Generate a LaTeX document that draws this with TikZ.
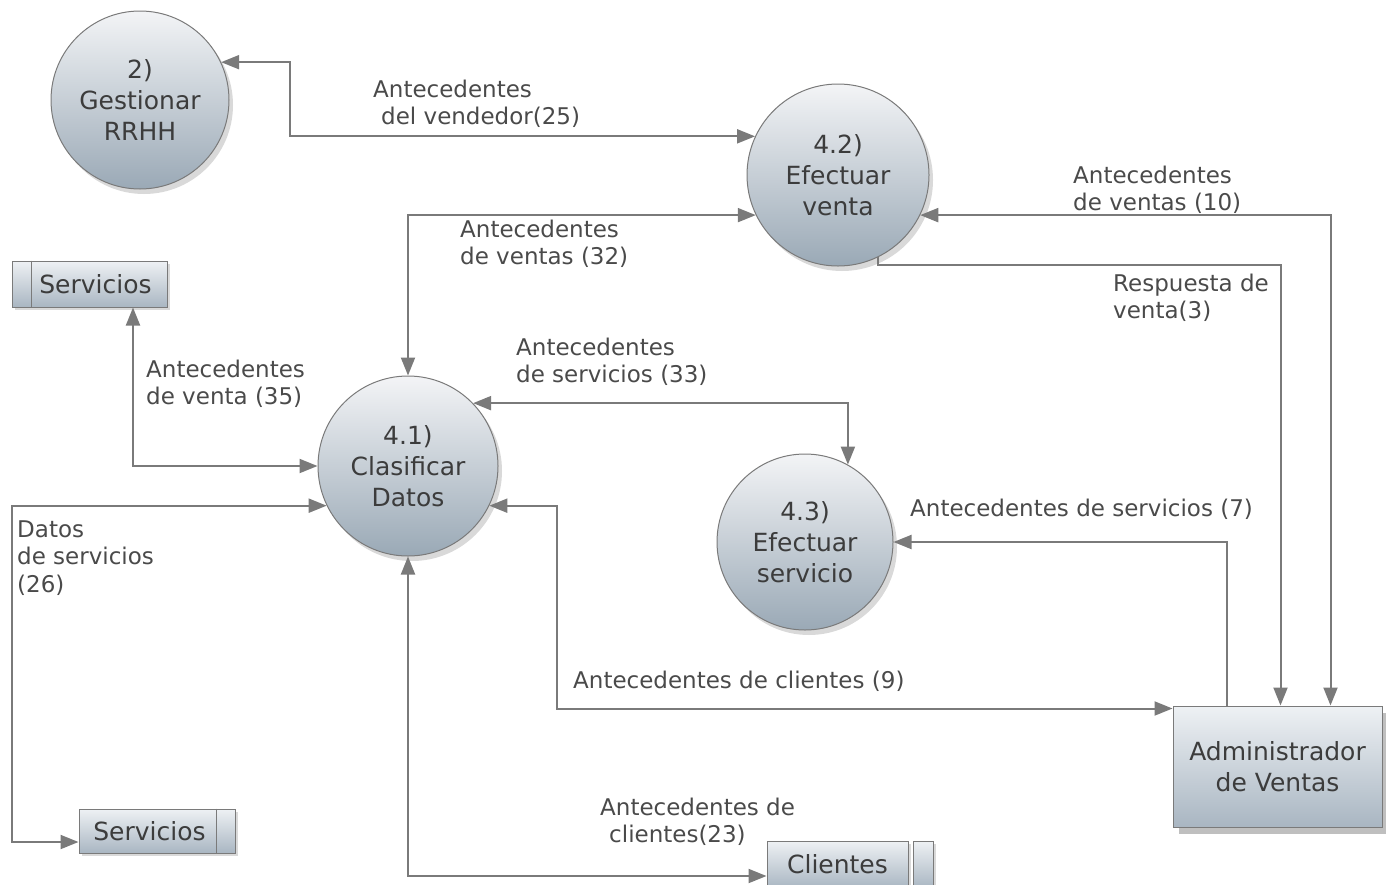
\documentclass[tikz,border=0pt]{standalone}
\usepackage{fontspec}
\setmainfont{DejaVu Sans}
\usetikzlibrary{arrows.meta,shadows}
\definecolor{edgec}{HTML}{7A7A7A}
\definecolor{bordc}{HTML}{7A7A7A}
\definecolor{ctop}{HTML}{F3F4F6}
\definecolor{cbot}{HTML}{9AA9B6}
\definecolor{stop}{HTML}{EEF1F4}
\definecolor{sbot}{HTML}{A9B6C2}
\definecolor{txtc}{HTML}{3C3C3C}
\definecolor{lblc}{HTML}{4A4A4A}
\begin{document}
\begin{tikzpicture}[x=1pt,y=-1pt,
  proc/.style={circle,draw=bordc,line width=1pt,top color=ctop,bottom color=cbot,
    minimum size=#1,inner sep=0pt,align=center,text=txtc,
    font=\fontsize{25}{31}\selectfont,
    drop shadow={shadow xshift=4pt,shadow yshift=-5pt,opacity=0.3}},
  store/.style={rectangle,draw=bordc,line width=1pt,top color=stop,bottom color=sbot,
    inner sep=0pt,text=txtc,font=\fontsize{25}{31}\selectfont,
    drop shadow={shadow xshift=3pt,shadow yshift=-3pt,opacity=0.3}},
  extent/.style={rectangle,draw=bordc,line width=1pt,top color=stop,bottom color=sbot,
    inner sep=0pt,align=center,text=txtc,font=\fontsize{25}{31}\selectfont,
    drop shadow={shadow xshift=6pt,shadow yshift=-7pt,opacity=0.5}},
  flow/.style={draw=edgec,line width=2pt,
    -{Triangle[length=18pt,width=14pt]}},
  both/.style={draw=edgec,line width=2pt,
    {Triangle[length=18pt,width=14pt]}-{Triangle[length=18pt,width=14pt]}},
  lbl/.style={anchor=west,align=left,inner sep=0pt,text=lblc,
    font=\fontsize{23}{27.5}\selectfont}
]
\useasboundingbox (0,0) rectangle (1386,884);

% processes
\node[proc=178pt] (g) at (140,100) {2)\\Gestionar\\RRHH};
\node[proc=182pt] (c42) at (838,175) {4.2)\\Efectuar\\venta};
\node[proc=180pt] (c41) at (408,466) {4.1)\\Clasificar\\Datos};
\node[proc=176pt] (c43) at (805,542) {4.3)\\Efectuar\\servicio};

% data stores
\node[store,minimum width=155pt,minimum height=46pt] (s1) at (89.5,284) {\hspace*{12pt}Servicios};
\draw[draw=bordc,line width=1pt] ([xshift=20pt]s1.north west) -- ([xshift=20pt]s1.south west);
\node[store,minimum width=156pt,minimum height=44pt] (s2) at (157,831) {Servicios\hspace*{15pt}};
\draw[draw=bordc,line width=1pt] ([xshift=-19pt]s2.north east) -- ([xshift=-19pt]s2.south east);
\node[store,minimum width=141pt,minimum height=47pt] (cl) at (837.5,864.5) {Clientes};
\node[store,minimum width=20pt,minimum height=47pt] (clx) at (923,864.5) {};

% external entity
\node[extent,minimum width=209pt,minimum height=121pt] (adm) at (1277.5,766.5) {Administrador\\de Ventas};

% flows
\draw[both] (g.25) -| (290,0 |- c42.155) -- (c42.155);
\draw[both] (c42.206) -| (c41.90);
\draw[both] (c42.334) -| ([xshift=-52pt]adm.north east);
\draw[flow] (c42.296) -- (c42.296 |- 0,265) -| ([xshift=-102pt]adm.north east);
\draw[both] ([xshift=43.5pt]s1.south) |- (c41.180);
\draw[both] (c41.44) -| (c43.61.5);
\draw[flow] ([xshift=-156pt]adm.north east) |- (c43.0);
\coordinate (admin in) at ([yshift=-3pt]adm.north west);
\draw[both] (c41.334) -| (557,0 |- admin in) -- (admin in);
\draw[both] ([yshift=-11pt]s2.west) -| (12,0 |- c41.206) -- (c41.206);
\draw[both] (c41.270) |- ([yshift=-11.5pt]cl.west);

% labels
\node[lbl] (l25) at (373,104) {Antecedentes\\\hspace*{8pt}del vendedor(25)};
\node[lbl] (l32) at (460,244) {Antecedentes\\de ventas (32)};
\node[lbl] (l10) at (1073,190) {Antecedentes\\de ventas (10)};
\node[lbl] (l3) at (1113,298) {Respuesta de\\venta(3)};
\node[lbl] (l35) at (146,384) {Antecedentes\\de venta (35)};
\node[lbl] (l33) at (516,362) {Antecedentes\\de servicios (33)};
\node[lbl] (l7) at (910,509) {Antecedentes de servicios (7)};
\node[lbl] (l9) at (573,681) {Antecedentes de clientes (9)};
\node[lbl] (l26) at (17,558) {Datos\\de servicios\\(26)};
\node[lbl] (l23) at (600,822) {Antecedentes de\\\hspace*{9pt}clientes(23)};
\end{tikzpicture}
\end{document}
